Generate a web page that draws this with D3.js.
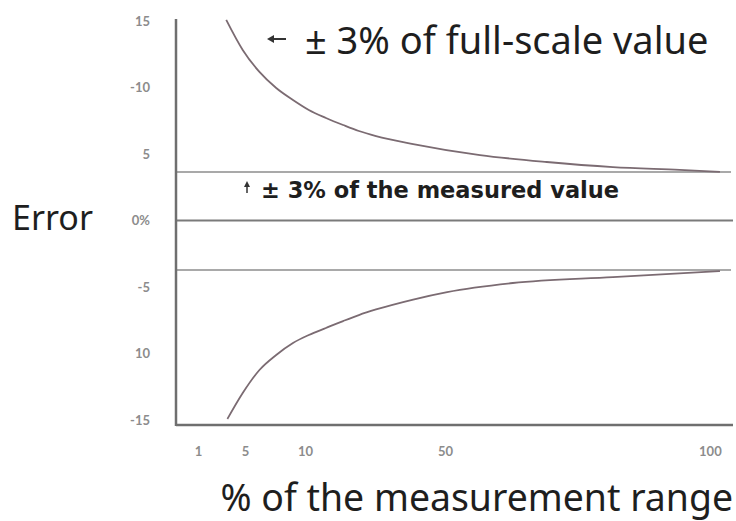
<!DOCTYPE html>
<html><head><meta charset="utf-8">
<script src="https://cdn.jsdelivr.net/npm/d3@7/dist/d3.min.js"></script>
<style>body{margin:0;background:#fff;overflow:hidden}</style>
</head><body>
<svg id="chart" width="736" height="521"></svg>
<script>
// ---- data ----
const xTicks = [1, 5, 10, 50, 100];
const yTickValues = [15, 10, 5, 0, -5, -10, -15];
const yTickLabels = ["15", "-10", "5", "0%", "-5", "10", "-15"];
const upperX = [3.4, 4.8, 6.2, 7.6, 9.0, 11.1, 16, 20.9, 25.4, 30.3, 40.9, 56.6, 69.2, 81.7, 94.3, 101.9];
const upperY = [15.08, 12.82, 11.17, 9.96, 9.06, 8.31, 7.71, 7.18, 6.73, 6.35, 5.75, 4.92, 4.40, 4.02, 3.80, 3.65];
const lowerX = [3.5, 4.8, 6.2, 7.6, 9.0, 11.1, 16, 20.9, 25.4, 30.3, 40.9, 50.4, 62.8, 81.7, 101.9];
const lowerY = [-14.92, -12.97, -11.24, -10.11, -9.21, -8.61, -8.08, -7.56, -7.11, -6.69, -5.94, -5.38, -4.70, -4.25, -3.80];
const bandLines = [3.65, -3.72];
const zeroLine = [0];
const labels = {
  y: "Error",
  x: "% of the measurement range",
  full: "± 3% of full-scale value",
  measured: "± 3% of the measured value"
};

// ---- layout ----
const svg = d3.select("#chart");
const L = 176, R = 733, T = 19, B = 425;
const W = R - L;
const tickFrac = [0.0395, 0.124, 0.2315, 0.483, 0.9585];
const x = d3.scaleLinear().domain(xTicks).range(tickFrac.map(f => L + f * W));
const y = d3.scaleLinear().domain([-15, 15]).range([420, 21]);

// horizontal reference lines
svg.selectAll("line.band").data(bandLines).join("line")
  .attr("class", "band")
  .attr("x1", L).attr("x2", 731)
  .attr("y1", d => y(d)).attr("y2", d => y(d))
  .attr("stroke", "#a9a9a9").attr("stroke-width", 2);
svg.selectAll("line.zero").data(zeroLine).join("line")
  .attr("class", "zero")
  .attr("x1", L).attr("x2", 733)
  .attr("y1", d => y(d)).attr("y2", d => y(d))
  .attr("stroke", "#7a7a7a").attr("stroke-width", 2);

// axes lines
svg.append("line").attr("x1", L).attr("x2", L).attr("y1", T).attr("y2", B + 1)
  .attr("stroke", "#6f6f6f").attr("stroke-width", 2.5);
svg.append("line").attr("x1", L).attr("x2", R).attr("y1", B).attr("y2", B)
  .attr("stroke", "#6f6f6f").attr("stroke-width", 2.5);

// y axis labels
const yAxis = d3.axisLeft(y).tickValues(yTickValues).tickSize(0).tickPadding(0)
  .tickFormat((d, i) => yTickLabels[i]);
const gy = svg.append("g").attr("transform", `translate(150,0)`).call(yAxis);
gy.select(".domain").remove();
gy.selectAll("text").attr("font-family", "Lato, 'Open Sans', sans-serif")
  .attr("font-size", 13).attr("font-weight", "bold").attr("fill", "#8c8c8c");

// x axis labels
const xAxis = d3.axisBottom(x).tickValues(xTicks).tickSize(0).tickPadding(0);
const gx = svg.append("g").attr("transform", `translate(0,447)`).call(xAxis);
gx.select(".domain").remove();
gx.selectAll("text").attr("font-family", "Lato, 'Open Sans', sans-serif")
  .attr("font-size", 13).attr("font-weight", "bold").attr("fill", "#8c8c8c");

// curves
const line = d3.line().x(d => x(d[0])).y(d => y(d[1])).curve(d3.curveMonotoneX);
const upper = upperX.map((v, i) => [v, upperY[i]]);
const lower = lowerX.map((v, i) => [v, lowerY[i]]);
[upper, lower].forEach(s => {
  svg.append("path").datum(s).attr("d", line)
    .attr("fill", "none").attr("stroke", "#7b6b72").attr("stroke-width", 1.8);
});

// titles
const sansBig = "'Noto Sans', 'Open Sans', sans-serif";
svg.append("text").attr("x", 12).attr("y", 230).text(labels.y)
  .attr("font-family", sansBig).attr("font-size", 34).attr("fill", "#1e1e1e");
svg.append("text").attr("x", 733).attr("y", 511).attr("text-anchor", "end").text(labels.x)
  .attr("font-family", sansBig).attr("font-size", 37.4).attr("fill", "#1e1e1e");
svg.append("text").attr("x", 305).attr("y", 54).text(labels.full)
  .attr("font-family", sansBig).attr("font-size", 38).attr("fill", "#1e1e1e");
svg.append("text").attr("x", 261).attr("y", 198).text(labels.measured)
  .attr("font-family", "'DejaVu Sans', sans-serif").attr("font-weight", "bold")
  .attr("font-size", 22.5).attr("fill", "#1e1e1e");

// arrows
svg.append("line").attr("x1", 272).attr("x2", 286).attr("y1", 39).attr("y2", 39)
  .attr("stroke", "#333").attr("stroke-width", 2);
svg.append("path").attr("d", "M267,39 L274,35 L274,43 Z").attr("fill", "#333");
svg.append("line").attr("x1", 247).attr("x2", 247).attr("y1", 186).attr("y2", 193)
  .attr("stroke", "#333").attr("stroke-width", 1.5);
svg.append("path").attr("d", "M247,181 L244,187 L250,187 Z").attr("fill", "#333");
</script>
</body></html>
